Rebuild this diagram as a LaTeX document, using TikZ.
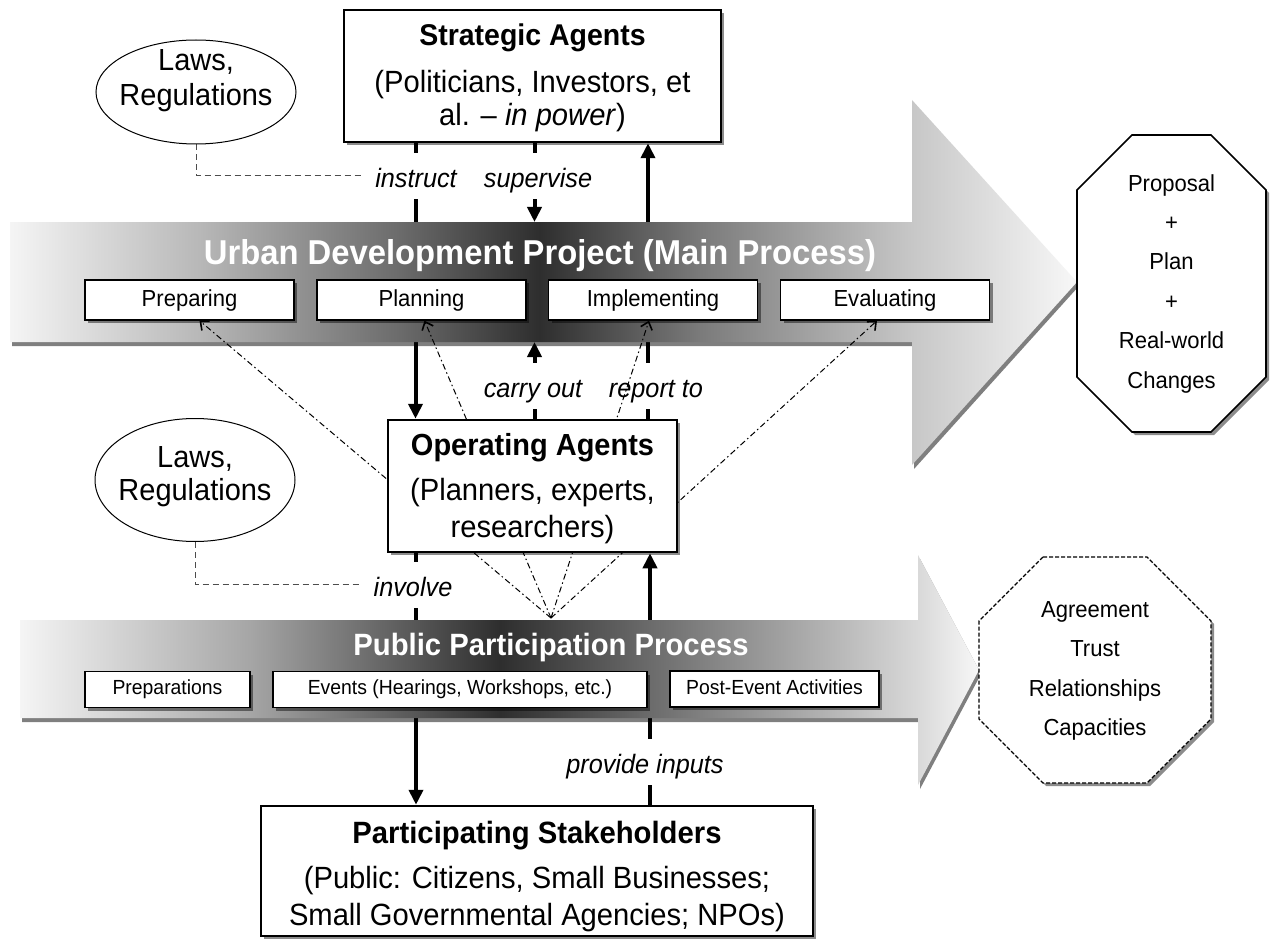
\documentclass[tikz,border=0pt]{standalone}
\usepackage{fontspec}
\setmainfont{Liberation Sans}[FakeStretch=0.95]
\usetikzlibrary{arrows.meta,shadows,shapes.geometric}

\pgfdeclarehorizontalshading{bandA}{100bp}{color(0bp)=(white); color(25bp)=(black!4); color(33.9bp)=(black!28); color(43.26bp)=(black!58); color(49.81bp)=(black!82); color(57.3bp)=(black!52); color(67.23bp)=(black!22); color(75bp)=(black!3); color(100bp)=(white)}
\pgfdeclarehorizontalshading{bandB}{100bp}{color(0bp)=(white); color(25bp)=(black!4); color(36.99bp)=(black!35); color(50.03bp)=(black!82); color(60.45bp)=(black!50); color(71.82bp)=(black!15); color(75bp)=(black!3); color(100bp)=(white)}

\pgfdeclarelayer{bgl}
\pgfdeclarelayer{lines}
\pgfdeclarelayer{bands}
\pgfdeclarelayer{labels}
\pgfdeclarelayer{ddl}
\pgfsetlayers{bgl,lines,bands,labels,ddl,main}

\tikzset{
  shad/.style={drop shadow={shadow xshift=3pt,shadow yshift=-3pt,opacity=0.45,fill=black}},
  agent/.style={draw,line width=2.5pt,fill=white,align=center,inner sep=0pt,shad,font=\fontsize{30.7}{33}\selectfont},
  stepbox/.style={draw,line width=1.3pt,fill=white,inner sep=0pt,minimum width=209,minimum height=40,text height=15pt,text depth=3pt,shad,font=\fontsize{23.2}{26}\selectfont},
  pstep/.style={stepbox,minimum height=36,text height=13pt,text depth=3pt,font=\fontsize{20.4}{23}\selectfont},
  flow/.style={line width=4pt,-{Triangle[width=14pt,length=15pt]}},
  lbl/.style={fill=white,inner xsep=12pt,inner ysep=0pt,minimum height=46,text height=25pt,text depth=1pt,font=\fontsize{26.6}{30}\selectfont\itshape},
  ddarrow/.style={line width=1pt,dash pattern=on 6pt off 3pt on 1.5pt off 3pt,-{Straight Barb[length=7pt,width=12pt,line width=1.6pt]}},
  lawdash/.style={line width=1pt,dash pattern=on 6pt off 4pt,black!70},
  lawell/.style={draw,ellipse,line width=1pt,fill=white,minimum width=200},
  lawtxt/.style={align=center,font=\fontsize{30.5}{35}\selectfont},
  octa/.style={draw,line width=1.6pt,fill=white,line join=miter,shad},
  octtxt/.style={align=center,font=\fontsize{23.2}{39.4}\selectfont},
  bandshad/.style={drop shadow={shadow xshift=2pt,shadow yshift=-4pt,opacity=0.5,fill=black}}
}

\begin{document}
\begin{tikzpicture}[x=1pt,y=-1pt]
\useasboundingbox (0,0) rectangle (1270,939);
\begin{pgfonlayer}{bgl}
\fill[white] (0,0) rectangle (1270,939);
\end{pgfonlayer}

% agents
\node[agent,minimum width=377,minimum height=132] (strat) at (532.5,76)
  {{\fontsize{30}{30}\selectfont\bfseries\rule{0pt}{26pt}Strategic Agents}\\[14pt](Politicians, Investors, et\\al. – \textit{in power})};
\node[agent,minimum width=289,minimum height=132] (oper) at (532.5,486)
  {{\fontsize{30.5}{30}\selectfont\bfseries\rule{0pt}{27pt}Operating Agents}\\[12pt](Planners, experts,\\[4pt]researchers)};
\node[agent,minimum width=552,minimum height=130] (part) at (537,871)
  {{\fontsize{30.8}{30}\selectfont\bfseries\rule{0pt}{33pt}Participating Stakeholders}\\[12pt](Public: Citizens, Small Businesses;\\[4pt]Small Governmental Agencies; NPOs)};

% laws
\node[lawell,minimum height=104] (law1) at (196,92) {};
\node[lawtxt] (law1t) at (196,81) {Laws,\\Regulations};
\node[lawell,minimum height=123] (law2) at (195,480) {};
\node[lawtxt,font=\fontsize{30.5}{33}\selectfont] (law2t) at (195,477) {Laws,\\Regulations};

% outcomes
\path[octa] (1132,135) -- (1211,135) -- (1266,190) -- (1266,377) -- (1211,432) -- (1132,432) -- (1077,377) -- (1077,190) -- cycle;
\node[octtxt] (outA) at (1171.5,283.5) {Proposal\\+\\Plan\\+\\Real-world\\Changes};
\path[octa,dash pattern=on 4pt off 2pt,line width=1.3pt] (1043,557) -- (1147,557) -- (1211,621) -- (1211,719) -- (1147,783) -- (1043,783) -- (979,719) -- (979,621) -- cycle;
\node[octtxt] (outB) at (1095,671) {Agreement\\Trust\\Relationships\\Capacities};

% bands
\begin{pgfonlayer}{bands}
\node[minimum width=902,minimum height=120,inner sep=0pt,outer sep=0pt] (mainbody) at (461,282) {};
\shade[shading=bandA,bandshad] (mainbody.north west) -- (mainbody.north east) -- (912,100) -- (1077,282) -- (912,465) -- (mainbody.south east) -- (mainbody.south west) -- cycle;
\node[text=white,font=\fontsize{34.5}{38}\selectfont\bfseries] (mainttl) at (540,256) {Urban Development Project (Main Process)};
\node[stepbox] (prep) at (189.5,300) {Preparing};
\node[stepbox] (plan) at (421.5,300) {Planning};
\node[stepbox] (impl) at (653,300) {Implementing};
\node[stepbox] (eval) at (885,300) {Evaluating};

\node[minimum width=898,minimum height=98,inner sep=0pt,outer sep=0pt] (ppbody) at (469,669) {};
\shade[shading=bandB,bandshad] (ppbody.north west) -- (ppbody.north east) -- (918,555) -- (979,670) -- (918,785) -- (ppbody.south east) -- (ppbody.south west) -- cycle;
\node[text=white,font=\fontsize{30.8}{34}\selectfont\bfseries] (ppttl) at (551,648) {Public Participation Process};
\node[pstep,minimum width=165] (pprep) at (167.5,689.5) {Preparations};
\node[pstep,minimum width=374] (pevent) at (460,689.5) {Events (Hearings, Workshops, etc.)};
\node[pstep,minimum width=209] (ppost) at (774.5,689) {Post-Event Activities};
\end{pgfonlayer}

% thick connectors
\begin{pgfonlayer}{lines}
\coordinate (xL) at (415.5,0);
\coordinate (xM) at (534.5,0);
\coordinate (xR) at (648,0);
\coordinate (xL2) at (416,0);
\coordinate (xR2) at (650,0);
\draw[flow] (strat.south -| xL) -- (oper.north -| xL);
\draw[flow] (strat.south -| xM) -- (mainbody.north -| xM);
\draw[flow] (oper.north -| xR) -- (strat.south -| xR);
\draw[flow] (oper.north -| xM) -- (mainbody.south -| xM);
\draw[flow] (oper.south -| xL2) -- (part.north -| xL2);
\draw[flow] (part.north -| xR2) -- (oper.south -| xR2);
\end{pgfonlayer}

% labels
\begin{pgfonlayer}{labels}
\node[lbl] (instr) at (416,176) {instruct};
\node[lbl] (superv) at (538,176) {supervise};
\node[lbl] (carry) at (533,385.5) {carry out};
\node[lbl] (report) at (656,385.5) {report to};
\node[lbl] (invol) at (413,584.5) {involve};
\node[lbl] (provide) at (645,761.5) {provide inputs};
\draw[lawdash] (law1.south) |- (instr.west);
\draw[lawdash] (law2.south) |- (invol.west);
\end{pgfonlayer}

% dash-dot arrows
\begin{pgfonlayer}{ddl}
\coordinate (pp) at (551,618);
\draw[ddarrow] (pp) -- ([xshift=10pt]prep.south);
\draw[ddarrow] (pp) -- ([xshift=3pt]plan.south);
\draw[ddarrow] (pp) -- ([xshift=-4pt]impl.south);
\draw[ddarrow] (pp) -- ([xshift=-8pt]eval.south);
\end{pgfonlayer}
\end{tikzpicture}
\end{document}
